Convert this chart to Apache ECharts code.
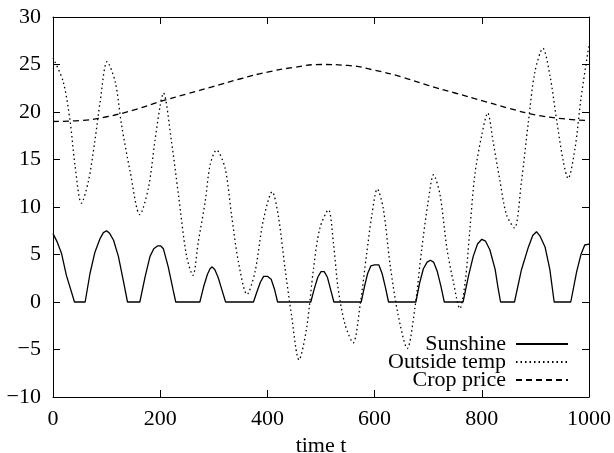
<!DOCTYPE html>
<html>
<head>
<meta charset="utf-8">
<script src="https://cdn.jsdelivr.net/npm/echarts@6/dist/echarts.min.js"></script>
<style>
    html, body { margin: 0; padding: 0; background: #fff; }
    #chart { width: 614px; height: 453px; }
</style>
</head>
<body>
<div id="chart"></div>
<script>
/* values, as [time t, value] */
const sunshine = [[0,7.2],[8,6.3],[16,5.1],[25,2.8],[38,0.4],[40,0],
    [60,0],[69,3.0],[78,5.2],[88,6.7],[94,7.3],[100,7.5],[106,7.2],[113,6.5],[122,4.8],[131,2.3],[139,0],
    [162,0],[172,2.7],[181,4.8],[188,5.6],[195,5.9],[201,5.9],[206,5.6],[215,3.7],[224,1.3],[229,0],
    [274,0],[281,1.6],[288,2.9],[293,3.5],[297,3.7],[302,3.4],[308,2.6],[315,1.3],[322,0],
    [374,0],[380,1.0],[387,2.1],[393,2.7],[400,2.7],[407,2.4],[413,1.4],[419,0],
    [481,0],[487,1.3],[494,2.6],[500,3.2],[506,3.2],[512,2.6],[518,1.3],[524,0],
    [575,0],[581,1.6],[587,3.0],[593,3.8],[600,3.9],[608,3.9],[614,3.0],[620,1.6],[626,0],
    [677,0],[684,2.0],[691,3.5],[698,4.2],[704,4.4],[710,4.2],[717,3.2],[724,1.6],[730,0],
    [765,0],[775,2.7],[784,4.8],[792,6.1],[800,6.6],[807,6.4],[815,5.5],[825,3.4],[830,1.6],[835,0],
    [861,0],[874,3.4],[887,5.8],[895,7.0],[902,7.4],[909,6.9],[918,5.8],[927,3.4],[935,0],
    [966,0],[977,3.2],[985,5.0],[992,6.0],[1000,6.1]];
const outsideTemp = [[0,25.7],[19,23.2],[32,19.0],[41,14.4],[53,10.4],[66,12.7],[78,16.9],[88,21.1],[101,25.3],[116,23.2],
    [128,18.6],[144,13.7],[162,9.2],[178,12.0],[190,16.9],[200,20.7],[206,22.0],[221,16.9],[234,11.3],[249,4.9],[261,2.8],
    [271,6.3],[284,10.6],[293,14.4],[305,16.0],[321,14.1],[333,9.2],[346,4.2],[362,0.8],[377,3.2],[392,8.5],[409,11.6],
    [420,9.2],[433,3.5],[445,-1.4],[459,-6.1],[473,-2.8],[486,3.5],[498,7.8],[514,9.7],[523,6.3],[532,1.4],[545,-2.4],
    [560,-4.3],[573,-0.3],[585,5.0],[595,9.2],[605,11.9],[616,9.9],[629,3.9],[644,-1.4],[661,-4.9],[675,-0.7],[688,5.6],
    [700,10.6],[710,13.4],[722,11.3],[735,5.6],[747,2.1],[759,-0.7],[769,2.1],[778,7.8],[787,13.4],[800,17.6],[811,19.9],
    [821,16.9],[834,12.7],[846,9.2],[861,7.8],[874,12.7],[887,19.0],[899,24.2],[914,26.7],[927,23.9],[940,19.0],
    [952,14.8],[961,13.0],[974,16.2],[985,21.4],[1000,27.1]];
const cropPrice = [[0,19],[50,19.1],[100,19.5],[150,20.2],[200,21.1],[250,21.9],[300,22.7],[350,23.5],[400,24.2],
    [450,24.7],[500,25],[550,24.9],[600,24.4],[650,23.7],[700,22.8],[750,22],[800,21.2],[850,20.4],[900,19.7],
    [950,19.3],[1000,19.1]];
const seriesNames = ['Sunshine', 'Outside temp', 'Crop price'];

const font = 'Liberation Serif';
const ink = '#000';

function makeAxis(pos, min, max, interval, labels) {
    return {
        type: 'value', position: pos, min: min, max: max, interval: interval,
        splitLine: { show: false },
        axisLine: { show: true, onZero: false, lineStyle: { color: ink, width: 1 } },
        axisTick: { show: true, inside: true, length: 7, lineStyle: { color: ink } },
        axisLabel: {
            show: labels, color: ink, fontFamily: font, fontSize: 22, margin: 12,
            formatter: v => String(v).replace('-', '\u2212'),
        },
    };
}

const chart = echarts.init(document.getElementById('chart'), null, { renderer: 'canvas' });
const xMain = makeAxis('bottom', 0, 1000, 200, true);
xMain.axisLabel.margin = 11;
xMain.name = 'time t';
xMain.nameLocation = 'middle';
xMain.nameGap = 34;
xMain.nameTextStyle = { color: ink, fontFamily: font, fontSize: 22 };
const yMain = makeAxis('left', -10, 30, 5, true);

chart.setOption({
    animation: false,
    backgroundColor: '#fff',
    grid: { left: 53, right: 25, top: 17, bottom: 56, outerBoundsMode: 'none' },
    xAxis: [xMain, makeAxis('top', 0, 1000, 200, false)],
    yAxis: [yMain, makeAxis('right', -10, 30, 5, false)],
    legend: {
        data: seriesNames,
        orient: 'vertical',
        align: 'right',
        right: 40,
        top: 328,
        itemWidth: 52,
        itemHeight: 10,
        itemGap: -4,
        itemStyle: { color: 'rgba(0,0,0,0)', borderWidth: 0 },
        textStyle: { color: ink, fontFamily: font, fontSize: 22, lineHeight: 18, padding: [0, 5, 0, 0] },
    },
    series: [
        {
            name: seriesNames[0], type: 'line', data: sunshine, symbol: 'none',
            lineStyle: { color: ink, width: 1.3, type: 'solid' },
            itemStyle: { color: ink },
        },
        {
            name: seriesNames[1], type: 'line', data: outsideTemp, symbol: 'none', smooth: 0.3,
            lineStyle: { color: ink, width: 1.3, type: [1.5, 3] },
            itemStyle: { color: ink },
        },
        {
            name: seriesNames[2], type: 'line', data: cropPrice, symbol: 'none', smooth: true,
            lineStyle: { color: ink, width: 1.3, type: [6, 4] },
            itemStyle: { color: ink },
        },
    ],
});
</script>
</body>
</html>
